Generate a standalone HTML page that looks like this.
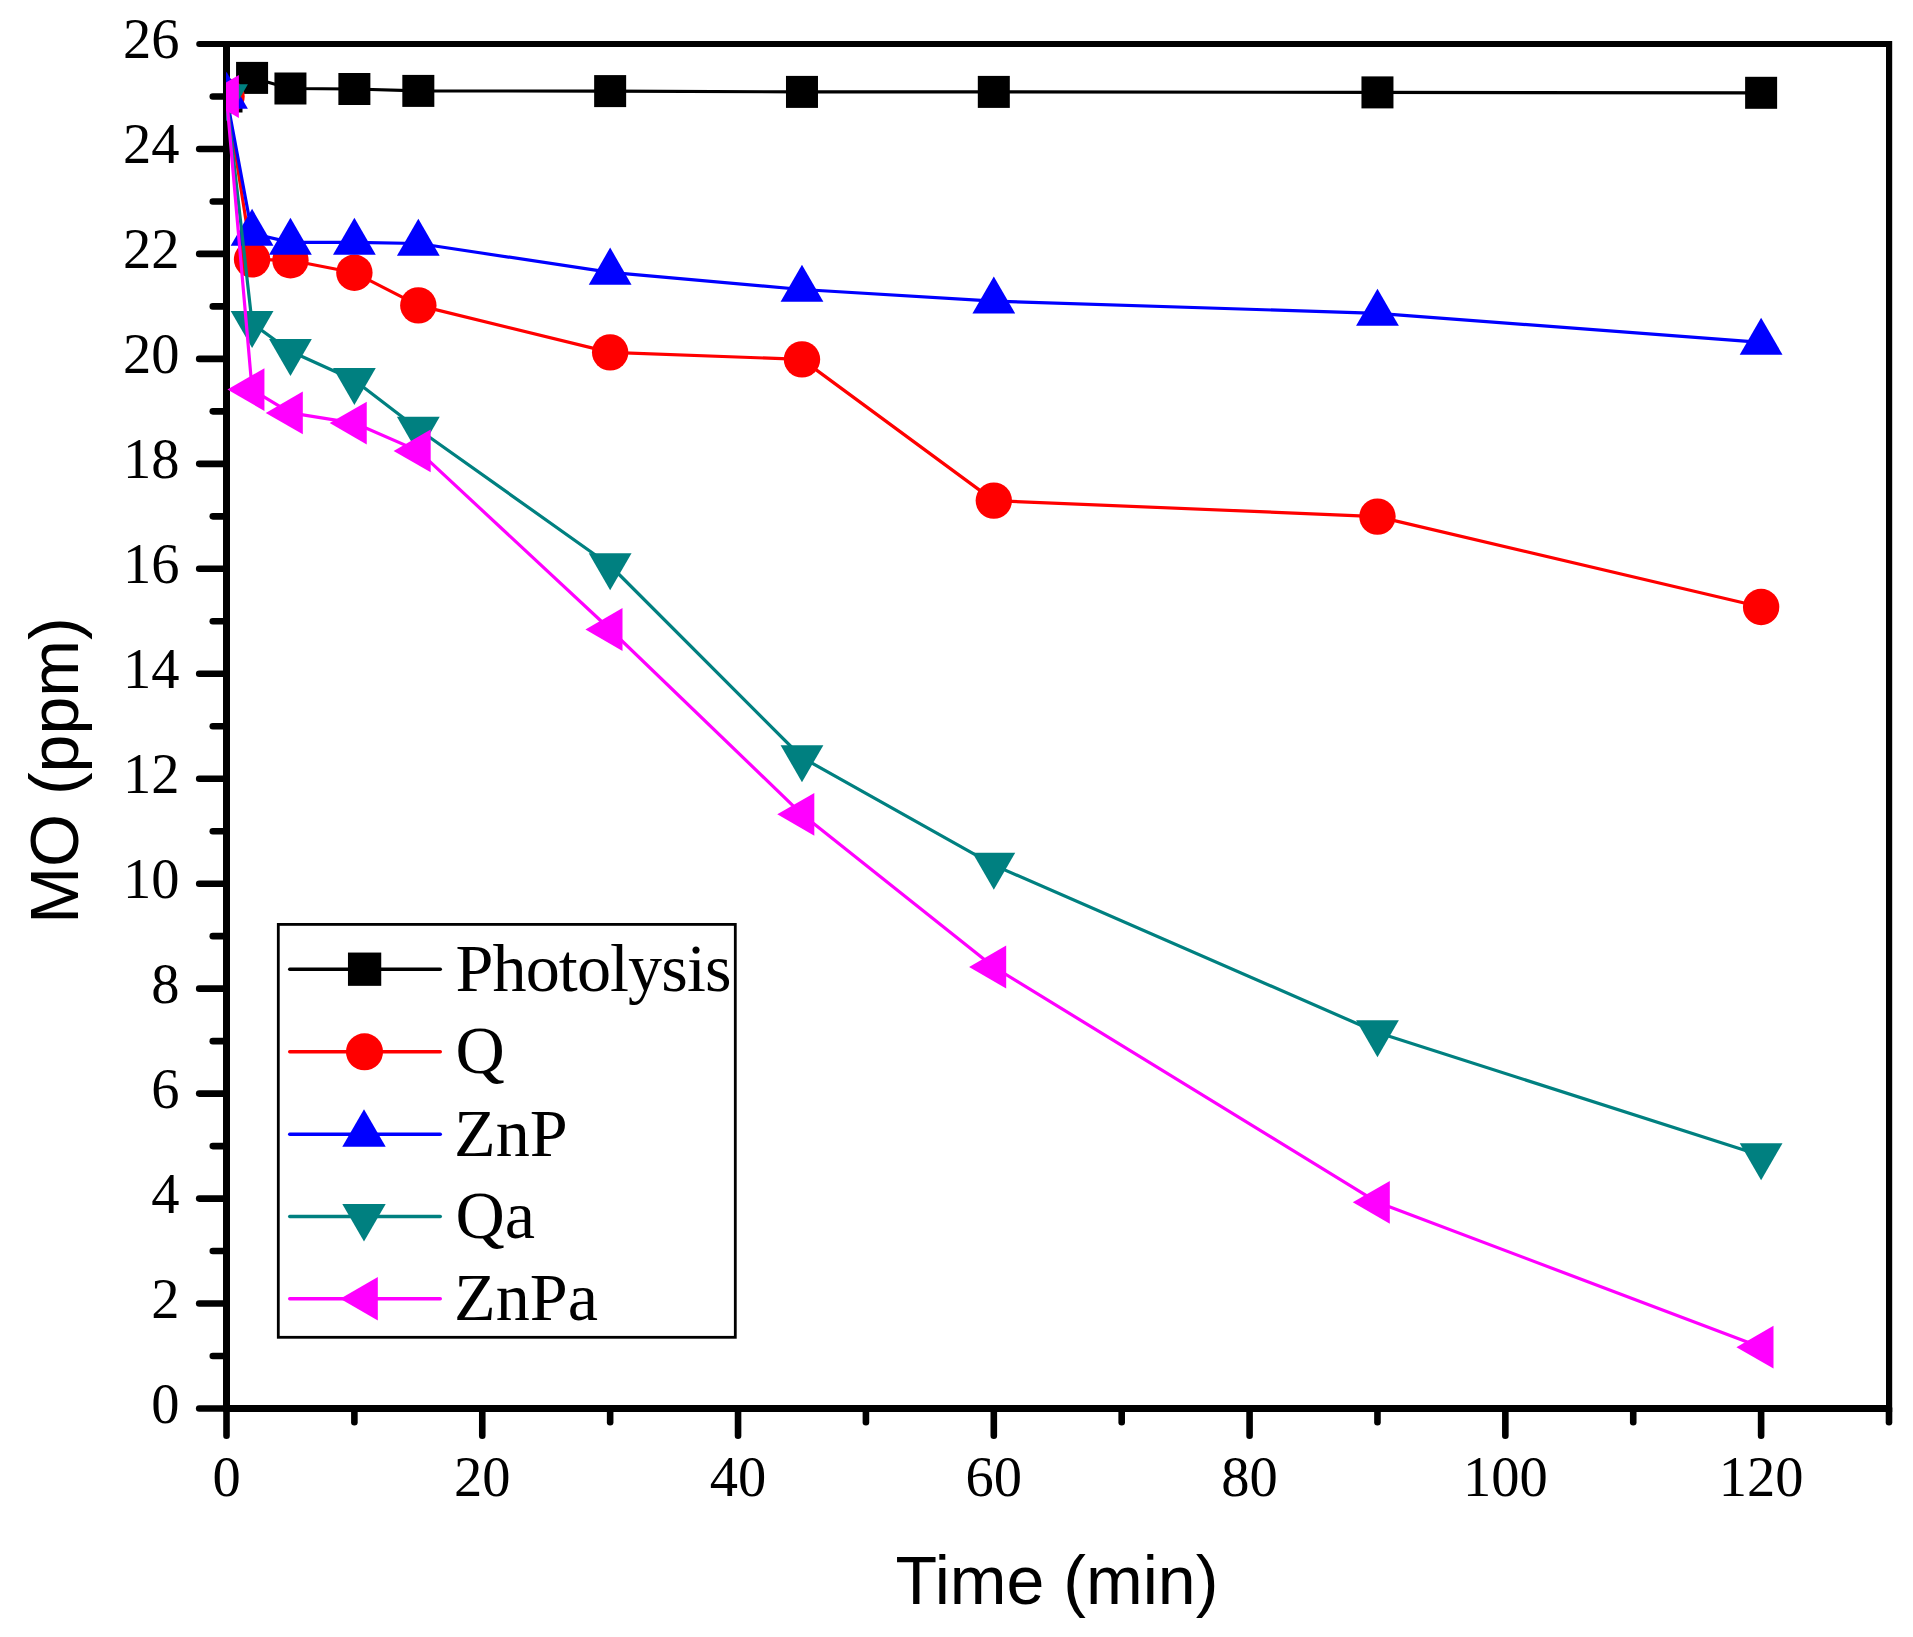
<!DOCTYPE html>
<html><head><meta charset="utf-8"><title>MO degradation</title>
<style>html,body{margin:0;padding:0;background:#fff}svg{display:block}</style></head>
<body>
<svg width="1913" height="1637" viewBox="0 0 1913 1637">
<rect width="1913" height="1637" fill="#fff"/>
<defs><clipPath id="cp"><rect x="226" y="40" width="1670" height="1375"/></clipPath></defs>
<g stroke="#000" stroke-width="6.6" stroke-linecap="round" fill="none">
<path d="M223,41 H1892.2 V1412 H223 Z M230,47 V1405 H1886 V47 Z" fill="#000" fill-rule="evenodd" stroke="none"/>
<line x1="226.5" y1="1408.50" x2="199.20" y2="1408.50"/>
<line x1="226.5" y1="1356.02" x2="212.80" y2="1356.02"/>
<line x1="226.5" y1="1303.54" x2="199.20" y2="1303.54"/>
<line x1="226.5" y1="1251.06" x2="212.80" y2="1251.06"/>
<line x1="226.5" y1="1198.58" x2="199.20" y2="1198.58"/>
<line x1="226.5" y1="1146.10" x2="212.80" y2="1146.10"/>
<line x1="226.5" y1="1093.62" x2="199.20" y2="1093.62"/>
<line x1="226.5" y1="1041.13" x2="212.80" y2="1041.13"/>
<line x1="226.5" y1="988.65" x2="199.20" y2="988.65"/>
<line x1="226.5" y1="936.17" x2="212.80" y2="936.17"/>
<line x1="226.5" y1="883.69" x2="199.20" y2="883.69"/>
<line x1="226.5" y1="831.21" x2="212.80" y2="831.21"/>
<line x1="226.5" y1="778.73" x2="199.20" y2="778.73"/>
<line x1="226.5" y1="726.25" x2="212.80" y2="726.25"/>
<line x1="226.5" y1="673.77" x2="199.20" y2="673.77"/>
<line x1="226.5" y1="621.29" x2="212.80" y2="621.29"/>
<line x1="226.5" y1="568.81" x2="199.20" y2="568.81"/>
<line x1="226.5" y1="516.33" x2="212.80" y2="516.33"/>
<line x1="226.5" y1="463.85" x2="199.20" y2="463.85"/>
<line x1="226.5" y1="411.37" x2="212.80" y2="411.37"/>
<line x1="226.5" y1="358.88" x2="199.20" y2="358.88"/>
<line x1="226.5" y1="306.40" x2="212.80" y2="306.40"/>
<line x1="226.5" y1="253.92" x2="199.20" y2="253.92"/>
<line x1="226.5" y1="201.44" x2="212.80" y2="201.44"/>
<line x1="226.5" y1="148.96" x2="199.20" y2="148.96"/>
<line x1="226.5" y1="96.48" x2="212.80" y2="96.48"/>
<line x1="226.5" y1="44.00" x2="199.20" y2="44.00" stroke-width="6"/>
<line x1="226.50" y1="1408.5" x2="226.50" y2="1435.80"/>
<line x1="354.38" y1="1408.5" x2="354.38" y2="1422.20"/>
<line x1="482.27" y1="1408.5" x2="482.27" y2="1435.80"/>
<line x1="610.15" y1="1408.5" x2="610.15" y2="1422.20"/>
<line x1="738.04" y1="1408.5" x2="738.04" y2="1435.80"/>
<line x1="865.92" y1="1408.5" x2="865.92" y2="1422.20"/>
<line x1="993.81" y1="1408.5" x2="993.81" y2="1435.80"/>
<line x1="1121.69" y1="1408.5" x2="1121.69" y2="1422.20"/>
<line x1="1249.58" y1="1408.5" x2="1249.58" y2="1435.80"/>
<line x1="1377.46" y1="1408.5" x2="1377.46" y2="1422.20"/>
<line x1="1505.35" y1="1408.5" x2="1505.35" y2="1435.80"/>
<line x1="1633.23" y1="1408.5" x2="1633.23" y2="1422.20"/>
<line x1="1761.12" y1="1408.5" x2="1761.12" y2="1435.80"/>
<line x1="1889.00" y1="1408.5" x2="1889.00" y2="1422.20"/>
</g>
<g font-family="'Liberation Serif', serif" font-size="56.5" fill="#000">
<text x="179.5" y="1422.50" text-anchor="end">0</text>
<text x="179.5" y="1317.54" text-anchor="end">2</text>
<text x="179.5" y="1212.58" text-anchor="end">4</text>
<text x="179.5" y="1107.62" text-anchor="end">6</text>
<text x="179.5" y="1002.65" text-anchor="end">8</text>
<text x="179.5" y="897.69" text-anchor="end">10</text>
<text x="179.5" y="792.73" text-anchor="end">12</text>
<text x="179.5" y="687.77" text-anchor="end">14</text>
<text x="179.5" y="582.81" text-anchor="end">16</text>
<text x="179.5" y="477.85" text-anchor="end">18</text>
<text x="179.5" y="372.88" text-anchor="end">20</text>
<text x="179.5" y="267.92" text-anchor="end">22</text>
<text x="179.5" y="162.96" text-anchor="end">24</text>
<text x="179.5" y="58.00" text-anchor="end">26</text>
<text x="226.50" y="1496" text-anchor="middle">0</text>
<text x="482.27" y="1496" text-anchor="middle">20</text>
<text x="738.04" y="1496" text-anchor="middle">40</text>
<text x="993.81" y="1496" text-anchor="middle">60</text>
<text x="1249.58" y="1496" text-anchor="middle">80</text>
<text x="1505.35" y="1496" text-anchor="middle">100</text>
<text x="1761.12" y="1496" text-anchor="middle">120</text>
</g>
<g font-family="'Liberation Sans', sans-serif" font-size="68.1" fill="#000">
<text x="1057" y="1604" text-anchor="middle">Time (min)</text>
<text transform="translate(77.8,770.5) rotate(-90)" text-anchor="middle">MO (ppm)</text>
</g>
<g clip-path="url(#cp)">
<polyline points="226.50,96.50 252.08,77.90 290.44,88.50 354.38,89.00 418.33,90.90 610.15,91.10 801.98,91.90 993.81,91.90 1377.46,92.40 1761.12,92.80" fill="none" stroke="#000000" stroke-width="3.2" stroke-linejoin="round"/>
<rect x="210.50" y="80.50" width="32.00" height="32.00" fill="#000000"/>
<rect x="236.08" y="61.90" width="32.00" height="32.00" fill="#000000"/>
<rect x="274.44" y="72.50" width="32.00" height="32.00" fill="#000000"/>
<rect x="338.38" y="73.00" width="32.00" height="32.00" fill="#000000"/>
<rect x="402.33" y="74.90" width="32.00" height="32.00" fill="#000000"/>
<rect x="594.15" y="75.10" width="32.00" height="32.00" fill="#000000"/>
<rect x="785.98" y="75.90" width="32.00" height="32.00" fill="#000000"/>
<rect x="977.81" y="75.90" width="32.00" height="32.00" fill="#000000"/>
<rect x="1361.46" y="76.40" width="32.00" height="32.00" fill="#000000"/>
<rect x="1745.12" y="76.80" width="32.00" height="32.00" fill="#000000"/>
<polyline points="226.50,96.50 252.08,259.40 290.44,260.30 354.38,272.70 418.33,305.40 610.15,352.40 801.98,359.40 993.81,500.60 1377.46,516.60 1761.12,607.00" fill="none" stroke="#ff0000" stroke-width="3.2" stroke-linejoin="round"/>
<circle cx="226.50" cy="96.50" r="18.20" fill="#ff0000"/>
<circle cx="252.08" cy="259.40" r="18.20" fill="#ff0000"/>
<circle cx="290.44" cy="260.30" r="18.20" fill="#ff0000"/>
<circle cx="354.38" cy="272.70" r="18.20" fill="#ff0000"/>
<circle cx="418.33" cy="305.40" r="18.20" fill="#ff0000"/>
<circle cx="610.15" cy="352.40" r="18.20" fill="#ff0000"/>
<circle cx="801.98" cy="359.40" r="18.20" fill="#ff0000"/>
<circle cx="993.81" cy="500.60" r="18.20" fill="#ff0000"/>
<circle cx="1377.46" cy="516.60" r="18.20" fill="#ff0000"/>
<circle cx="1761.12" cy="607.00" r="18.20" fill="#ff0000"/>
<polyline points="226.50,96.50 252.08,233.50 290.44,242.40 354.38,242.40 418.33,243.50 610.15,272.30 801.98,289.50 993.81,301.10 1377.46,313.35 1761.12,342.35" fill="none" stroke="#0000ff" stroke-width="3.2" stroke-linejoin="round"/>
<polygon points="226.50,71.80 205.11,108.85 247.89,108.85" fill="#0000ff"/>
<polygon points="252.08,208.80 230.69,245.85 273.47,245.85" fill="#0000ff"/>
<polygon points="290.44,217.70 269.05,254.75 311.83,254.75" fill="#0000ff"/>
<polygon points="354.38,217.70 332.99,254.75 375.78,254.75" fill="#0000ff"/>
<polygon points="418.33,218.80 396.94,255.85 439.72,255.85" fill="#0000ff"/>
<polygon points="610.15,247.60 588.76,284.65 631.54,284.65" fill="#0000ff"/>
<polygon points="801.98,264.80 780.59,301.85 823.37,301.85" fill="#0000ff"/>
<polygon points="993.81,276.40 972.42,313.45 1015.20,313.45" fill="#0000ff"/>
<polygon points="1377.46,288.65 1356.07,325.70 1398.85,325.70" fill="#0000ff"/>
<polygon points="1761.12,317.65 1739.72,354.70 1782.51,354.70" fill="#0000ff"/>
<polyline points="226.50,96.50 252.08,323.30 290.44,351.30 354.38,380.30 418.33,429.20 610.15,565.50 801.98,757.50 993.81,865.10 1377.46,1032.50 1761.12,1155.50" fill="none" stroke="#008080" stroke-width="3.2" stroke-linejoin="round"/>
<polygon points="226.50,121.20 205.11,84.15 247.89,84.15" fill="#008080"/>
<polygon points="252.08,348.00 230.69,310.95 273.47,310.95" fill="#008080"/>
<polygon points="290.44,376.00 269.05,338.95 311.83,338.95" fill="#008080"/>
<polygon points="354.38,405.00 332.99,367.95 375.78,367.95" fill="#008080"/>
<polygon points="418.33,453.90 396.94,416.85 439.72,416.85" fill="#008080"/>
<polygon points="610.15,590.20 588.76,553.15 631.54,553.15" fill="#008080"/>
<polygon points="801.98,782.20 780.59,745.15 823.37,745.15" fill="#008080"/>
<polygon points="993.81,889.80 972.42,852.75 1015.20,852.75" fill="#008080"/>
<polygon points="1377.46,1057.20 1356.07,1020.15 1398.85,1020.15" fill="#008080"/>
<polygon points="1761.12,1180.20 1739.72,1143.15 1782.51,1143.15" fill="#008080"/>
<polyline points="226.50,96.50 252.08,389.60 290.44,412.90 354.38,423.05 418.33,450.90 610.15,629.50 801.98,814.30 993.81,967.00 1377.46,1202.30 1761.12,1347.20" fill="none" stroke="#ff00ff" stroke-width="3.2" stroke-linejoin="round"/>
<polygon points="201.80,96.50 238.85,75.11 238.85,117.89" fill="#ff00ff"/>
<polygon points="227.38,389.60 264.43,368.21 264.43,410.99" fill="#ff00ff"/>
<polygon points="265.74,412.90 302.79,391.51 302.79,434.29" fill="#ff00ff"/>
<polygon points="329.68,423.05 366.73,401.66 366.73,444.44" fill="#ff00ff"/>
<polygon points="393.63,450.90 430.68,429.51 430.68,472.29" fill="#ff00ff"/>
<polygon points="585.45,629.50 622.50,608.11 622.50,650.89" fill="#ff00ff"/>
<polygon points="777.28,814.30 814.33,792.91 814.33,835.69" fill="#ff00ff"/>
<polygon points="969.11,967.00 1006.16,945.61 1006.16,988.39" fill="#ff00ff"/>
<polygon points="1352.76,1202.30 1389.81,1180.91 1389.81,1223.69" fill="#ff00ff"/>
<polygon points="1736.42,1347.20 1773.47,1325.81 1773.47,1368.59" fill="#ff00ff"/>
</g>
<rect x="278.3" y="924.4" width="457.0" height="412.9" fill="#fff" stroke="#000" stroke-width="2.8"/>
<g font-family="'Liberation Serif', serif" font-size="68.2" fill="#000">
<line x1="289.7" y1="969.2" x2="440.3" y2="969.2" stroke="#000000" stroke-width="3.4" stroke-linecap="round"/>
<rect x="347.96" y="952.56" width="33.28" height="33.28" fill="#000000"/>
<text x="455.5" y="990.70" textLength="276" lengthAdjust="spacing">Photolysis</text>
<line x1="289.7" y1="1051.8" x2="440.3" y2="1051.8" stroke="#ff0000" stroke-width="3.4" stroke-linecap="round"/>
<circle cx="364.50" cy="1051.80" r="18.56" fill="#ff0000"/>
<text x="455.5" y="1073.30">Q</text>
<line x1="289.7" y1="1134.3" x2="440.3" y2="1134.3" stroke="#0000ff" stroke-width="3.4" stroke-linecap="round"/>
<polygon points="364.00,1109.23 342.29,1146.84 385.71,1146.84" fill="#0000ff"/>
<text x="454.0" y="1155.80">ZnP</text>
<line x1="289.7" y1="1216.5" x2="440.3" y2="1216.5" stroke="#008080" stroke-width="3.4" stroke-linecap="round"/>
<polygon points="364.00,1241.57 342.29,1203.96 385.71,1203.96" fill="#008080"/>
<text x="455.5" y="1238.00">Qa</text>
<line x1="289.7" y1="1298.7" x2="440.3" y2="1298.7" stroke="#ff00ff" stroke-width="3.4" stroke-linecap="round"/>
<polygon points="340.23,1298.70 377.84,1276.99 377.84,1320.41" fill="#ff00ff"/>
<text x="454.0" y="1320.20">ZnPa</text>
</g>
</svg>
</body></html>
